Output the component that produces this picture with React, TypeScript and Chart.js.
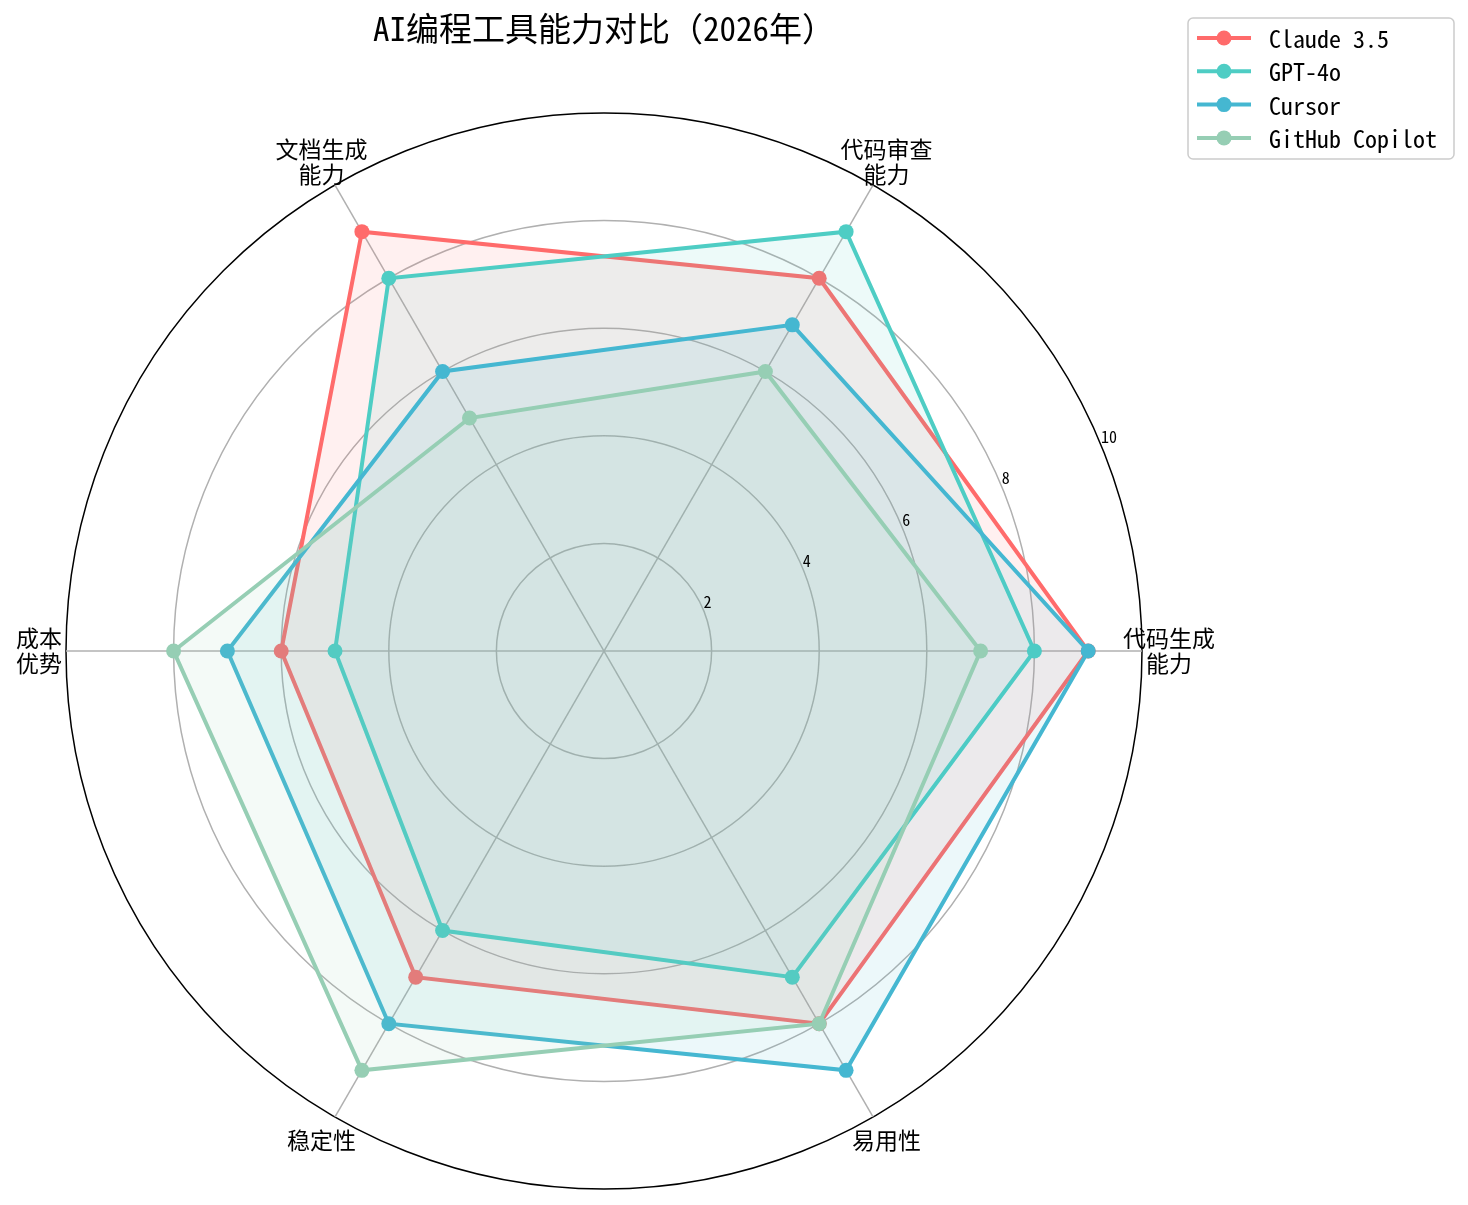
import { useEffect, useRef } from 'react';
import { Chart, registerables } from 'chart.js';

Chart.register(...registerables);

// axes go counter-clockwise from the right, like the original figure
const categories = [['代码生成', '能力'], ['代码审查', '能力'], ['文档生成', '能力'], ['成本', '优势'], ['稳定性'], ['易用性']];
const claude = [9, 8, 9, 6, 7, 8];
const gpt4o = [8, 9, 8, 5, 6, 7];
const cursor = [9, 7, 6, 7, 8, 9];
const copilot = [7, 6, 5, 8, 9, 8];
const seriesNames = ['Claude 3.5', 'GPT-4o', 'Cursor', 'GitHub Copilot'];
const seriesColors = ['#FF6B6B', '#4ECDC4', '#45B7D1', '#96CEB4'];
const radialTicks = [2, 4, 6, 8, 10];
const titleText = 'AI编程工具能力对比（2026年）';

const FONT = '"Noto Sans Mono CJK SC", "Noto Sans CJK SC", sans-serif';

// Chart.js walks clockwise, so flip the order after the first item
const clockwise = <T,>(arr: T[]): T[] => arr.map((_, i) => arr[(arr.length - i) % arr.length]);

const alpha = (hex: string, a: number) => {
  const n = parseInt(hex.slice(1), 16);
  return `rgba(${(n >> 16) & 255}, ${(n >> 8) & 255}, ${n & 255}, ${a})`;
};

const decorPlugin = {
  id: 'decor',
  afterDraw(chart: any) {
    const { ctx } = chart;
    const scale = chart.scales.r;
    ctx.save();

    // title
    ctx.fillStyle = '#000';
    ctx.font = `33px ${FONT}`;
    ctx.textAlign = 'center';
    ctx.textBaseline = 'middle';
    ctx.fillText(titleText, 604, 28);

    // category labels, centred just outside the outer ring
    ctx.font = `23px ${FONT}`;
    const labelDist = scale.getDistanceFromCenterForValue(10) + 27;
    (chart.data.labels as string[][]).forEach((lines, i) => {
      const p = scale.getPointPosition(i, labelDist);
      const lh = 25;
      const y0 = p.y - ((lines.length - 1) * lh) / 2;
      lines.forEach((line, j) => ctx.fillText(line, p.x, y0 + j * lh));
    });

    // radial tick labels along 22.5 degrees
    ctx.font = `16px ${FONT}`;
    ctx.textAlign = 'left';
    ctx.textBaseline = 'bottom';
    const ang = (22.5 * Math.PI) / 180;
    radialTicks.forEach((v) => {
      const d = scale.getDistanceFromCenterForValue(v);
      ctx.fillText(String(v), scale.xCenter + d * Math.cos(ang), scale.yCenter - d * Math.sin(ang));
    });

    // legend
    const bx = 1188, by = 18, bw = 266, bh = 141;
    ctx.fillStyle = 'rgba(255,255,255,0.8)';
    ctx.strokeStyle = '#cccccc';
    ctx.lineWidth = 1.5;
    ctx.beginPath();
    ctx.roundRect(bx, by, bw, bh, 5);
    ctx.fill();
    ctx.stroke();
    ctx.font = `24px ${FONT}`;
    ctx.textBaseline = 'middle';
    seriesNames.forEach((name, i) => {
      const y = 38 + i * 33.3;
      ctx.strokeStyle = seriesColors[i];
      ctx.lineWidth = 4;
      ctx.beginPath();
      ctx.moveTo(1197, y);
      ctx.lineTo(1251, y);
      ctx.stroke();
      ctx.fillStyle = seriesColors[i];
      ctx.beginPath();
      ctx.arc(1224, y, 7.5, 0, Math.PI * 2);
      ctx.fill();
      ctx.fillStyle = '#000';
      ctx.fillText(name, 1269, y + 1);
    });
    ctx.restore();
  },
};

export default function App() {
  const canvasRef = useRef<HTMLCanvasElement>(null);

  useEffect(() => {
    if (!canvasRef.current) return;
    const allSeries = [claude, gpt4o, cursor, copilot];

    const chart = new Chart(canvasRef.current, {
      type: 'radar',
      data: {
        labels: clockwise(categories),
        datasets: allSeries.map((values, i) => ({
          label: seriesNames[i],
          data: clockwise(values),
          borderColor: seriesColors[i],
          backgroundColor: alpha(seriesColors[i], 0.1),
          borderWidth: 4,
          fill: true,
          pointRadius: 7.5,
          pointHoverRadius: 7.5,
          pointBorderWidth: 0,
          pointBackgroundColor: seriesColors[i],
          order: allSeries.length - i, // later series drawn on top
        })),
      },
      options: {
        responsive: false,
        animation: false,
        layout: { padding: { left: 66, top: 113, right: 326, bottom: 16 } },
        plugins: {
          legend: { display: false },
          title: { display: false },
          tooltip: { enabled: false },
        },
        scales: {
          r: {
            min: 0,
            max: 10,
            startAngle: 90,
            ticks: { stepSize: 2, display: false },
            pointLabels: { display: false },
            grid: {
              circular: true,
              color: (c: any) => (c.tick && c.tick.value === 10 ? '#000000' : '#b0b0b0'),
              lineWidth: 1.5,
            },
            angleLines: { color: '#b0b0b0', lineWidth: 1.5 },
          },
        },
      },
      plugins: [decorPlugin],
    });

    return () => chart.destroy();
  }, []);

  return (
    <div style={{ position: 'fixed', left: 0, top: 0, width: 1468, height: 1205, background: '#fff' }}>
      <canvas ref={canvasRef} width={1468} height={1205} />
    </div>
  );
}
